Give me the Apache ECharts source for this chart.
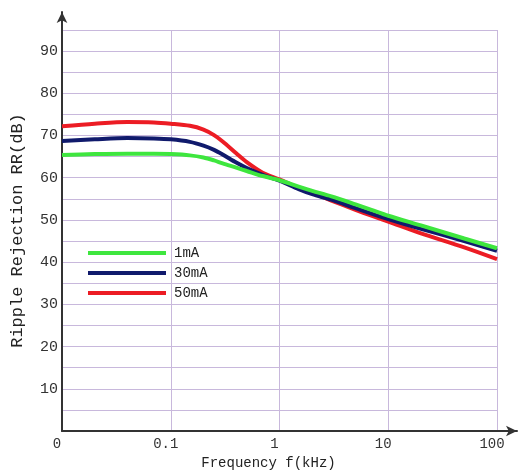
<!DOCTYPE html>
<html>
<head>
<meta charset="utf-8">
<script src="https://cdn.jsdelivr.net/npm/echarts@6/dist/echarts.min.js"></script>
<style>
  html, body { margin: 0; padding: 0; background: #fff; }
  #chart { width: 519px; height: 475px; }
</style>
</head>
<body>
<div id="chart"></div>
<script>
// frequency in kHz, ripple rejection in dB
var freq = [0.01, 0.02, 0.04, 0.07, 0.1, 0.15, 0.2, 0.25, 0.3, 0.4, 0.5, 0.7, 1, 1.5, 2, 3, 5, 7, 10, 20, 50, 100];
var rr1mA = [65.4, 65.6, 65.7, 65.7, 65.6, 65.3, 64.8, 64.1, 63.4, 62.4, 61.6, 60.4, 59.4, 57.9, 56.9, 55.6, 53.7, 52.4, 51.0, 48.7, 45.6, 43.3];
var rr30mA = [68.7, 69.1, 69.4, 69.3, 69.1, 68.5, 67.6, 66.6, 65.5, 63.6, 62.3, 60.7, 59.3, 57.3, 56.1, 54.8, 52.8, 51.5, 50.2, 47.9, 45.0, 42.7];
var rr50mA = [72.2, 72.8, 73.2, 73.1, 72.8, 72.3, 71.4, 70.1, 68.6, 65.8, 63.7, 61.2, 59.6, 57.6, 56.4, 54.6, 52.4, 51.0, 49.6, 46.8, 43.5, 40.7];
var seriesNames = ['1mA', '30mA', '50mA'];
var seriesColors = ['#3ee63e', '#101a6c', '#ec1c24'];

var font = 'Liberation Mono';
var gridColor = '#c8b8dc';

function pairs(vals) {
    let out = [];
    for (let i = 0; i < freq.length; i++) {
        out.push([freq[i], vals[i]]);
    }
    return out;
}

let chart = echarts.init(document.getElementById('chart'));
let allVals = [rr1mA, rr30mA, rr50mA];
let series = [];
for (let i = 0; i < seriesNames.length; i++) {
    series.push({
        name: seriesNames[i],
        type: 'line',
        smooth: 0.3,
        showSymbol: false,
        z: 3 + (2 - i),
        lineStyle: { width: 4, color: seriesColors[i] },
        itemStyle: { color: seriesColors[i] },
        data: pairs(allVals[i])
    });
}

let option = {
    animation: false,
    backgroundColor: '#fff',
    legend: {
        orient: 'vertical',
        left: 83,
        top: 241,
        icon: 'rect',
        itemWidth: 78,
        itemHeight: 4,
        itemGap: 6,
        textStyle: { fontFamily: font, fontSize: 14, color: '#222', padding: [0, 0, 0, 3] },
        data: seriesNames
    },
    grid: [
        { left: 62, right: 22, top: 30, bottom: 44 },
        { left: 62, right: 2, top: 12, bottom: 44 }
    ],
    xAxis: [
        {
            gridIndex: 0,
            type: 'log',
            logBase: 10,
            min: 0.01,
            max: 100,
            name: 'Frequency f(kHz)',
            nameLocation: 'middle',
            nameGap: 25,
            nameTextStyle: { fontFamily: font, fontSize: 14, color: '#222', padding: [0, 22, 0, 0] },
            axisLine: { show: false },
            axisTick: { show: false },
            axisLabel: {
                fontFamily: font,
                fontSize: 14,
                color: '#333',
                margin: 6,
                padding: [0, 10, 0, 0],
                formatter: function (v) {
                    return v <= 0.01 ? '0' : String(v);
                }
            },
            splitLine: { show: true, lineStyle: { color: gridColor, width: 1 } }
        },
        {
            gridIndex: 1,
            type: 'value',
            min: 0,
            max: 1,
            axisLine: { show: true, symbol: ['none', 'arrow'], symbolSize: [8, 11], lineStyle: { color: '#333', width: 2 } },
            axisTick: { show: false },
            axisLabel: { show: false },
            splitLine: { show: false }
        }
    ],
    yAxis: [
        {
            gridIndex: 0,
            type: 'value',
            min: 0,
            max: 95,
            interval: 5,
            name: 'Ripple Rejection RR(dB)',
            nameLocation: 'middle',
            nameGap: 36,
            nameTextStyle: { fontFamily: font, fontSize: 17, color: '#222' },
            axisLine: { show: false },
            axisTick: { show: false },
            axisLabel: {
                fontFamily: font,
                fontSize: 15,
                color: '#333',
                margin: 4,
                formatter: function (v) {
                    return (v > 0 && v < 95 && v % 10 === 0) ? String(v) : '';
                }
            },
            splitLine: { show: true, lineStyle: { color: gridColor, width: 1 } }
        },
        {
            gridIndex: 1,
            type: 'value',
            min: 0,
            max: 1,
            axisLine: { show: true, symbol: ['none', 'arrow'], symbolSize: [8, 11], lineStyle: { color: '#333', width: 2 } },
            axisTick: { show: false },
            axisLabel: { show: false },
            splitLine: { show: false }
        }
    ],
    series: series
};
chart.setOption(option);
</script>
</body>
</html>
